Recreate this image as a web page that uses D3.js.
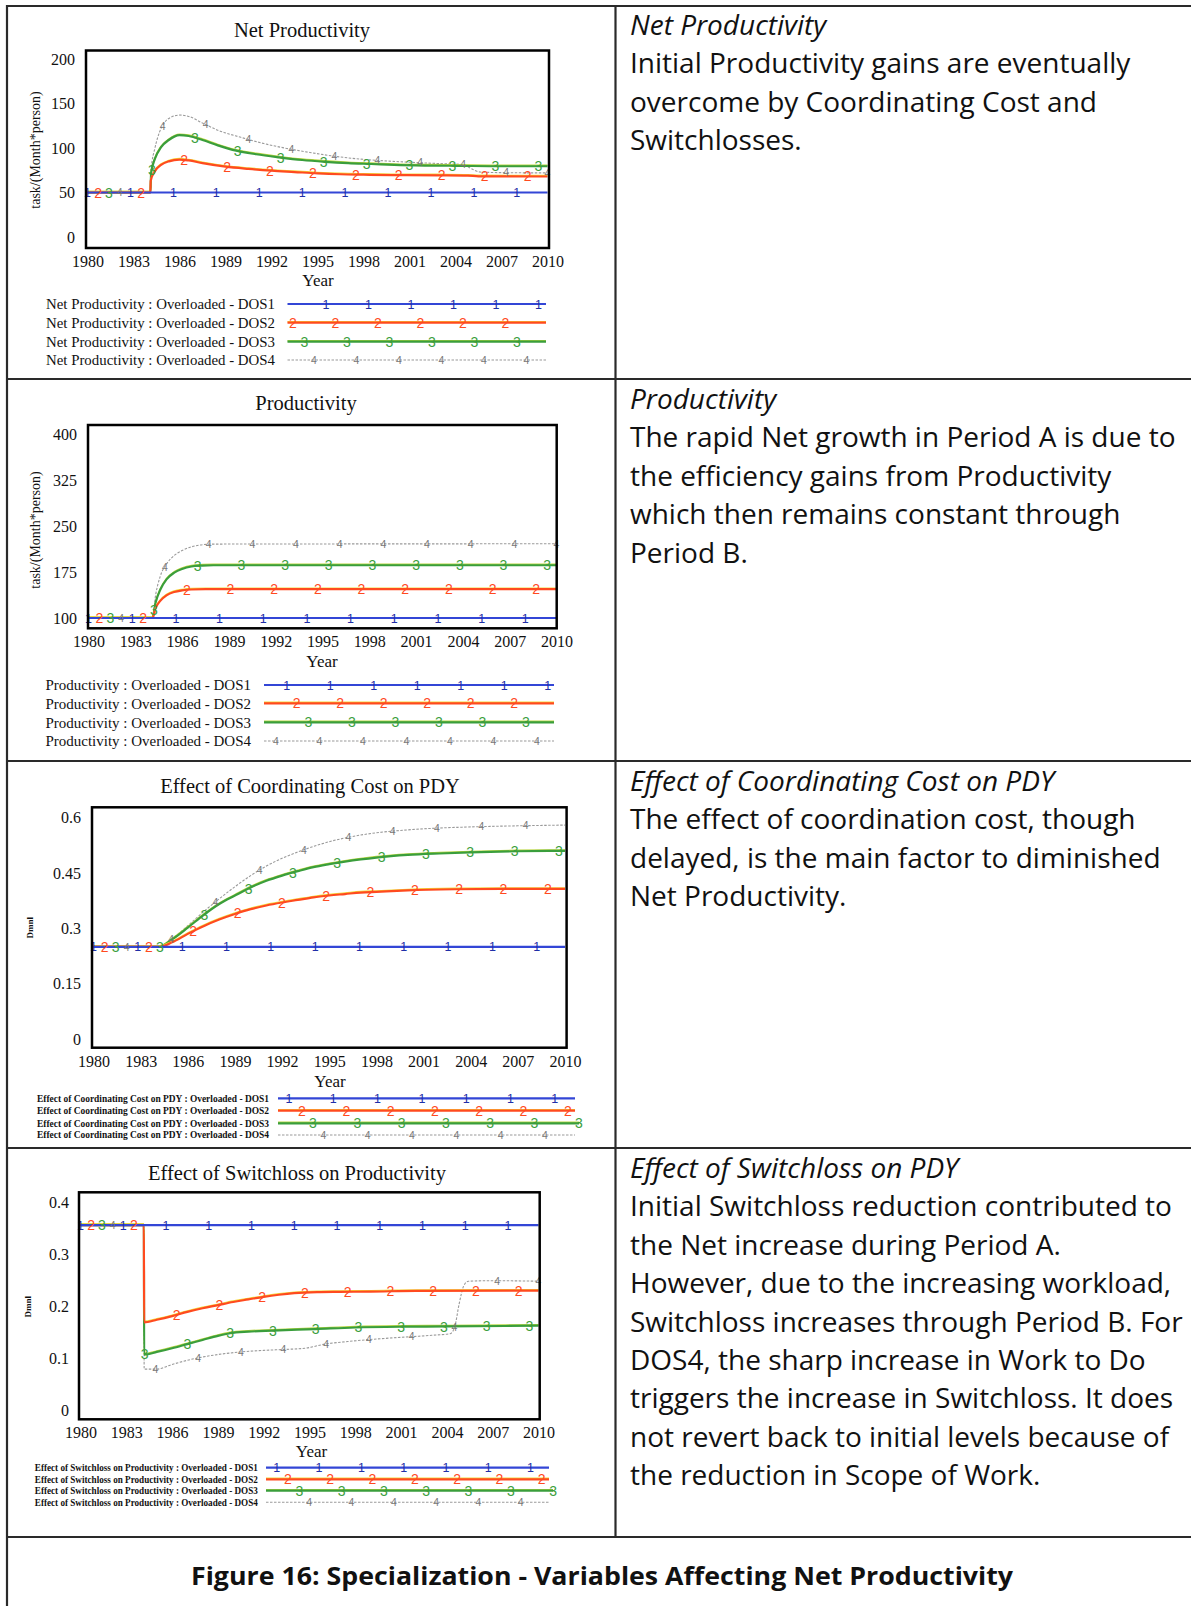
<!DOCTYPE html>
<html>
<head>
<meta charset="utf-8">
<script src="https://cdn.jsdelivr.net/npm/d3@7"></script>
<style>
  body { margin: 0; background: #fff; }
  .serif { font-family: "Liberation Serif", "Times New Roman", serif; fill: #111; }
  .note { font-family: "Open Sans", "Noto Sans", sans-serif; fill: #111; }
</style>
</head>
<body>
<div id="chart"></div>
<script>
// ---- shared labels ----
const yearTicks = [1980, 1983, 1986, 1989, 1992, 1995, 1998, 2001, 2004, 2007, 2010];
const seriesNames = ['DOS1', 'DOS2', 'DOS3', 'DOS4'];

// ---- Net Productivity (task/(Month*person)) ----
const netTicks = [0, 50, 100, 150, 200];
const net1 = [[1980, 50], [2010, 50]];
const net2 = [[1980, 50], [1984.1, 50], [1984.12, 63], [1984.4, 74], [1984.8, 81], [1985.3, 85], [1986, 87], [1986.6, 86],
  [1987.5, 83], [1989, 79], [1990.5, 76.5], [1992, 74.5], [1993.5, 73], [1995, 71.5], [1996.5, 70.5], [1998, 70],
  [2000, 69.5], [2003, 69.3], [2004.8, 69], [2005.5, 68.2], [2010, 68]];
const net3 = [[1980, 50], [1984.1, 50], [1984.15, 72], [1984.4, 88], [1984.8, 101], [1985.3, 109], [1986, 114.5], [1986.6, 113.5],
  [1987.5, 109], [1988.5, 103], [1989.7, 97], [1991, 93], [1992.5, 89.5], [1994, 86.5], [1995.5, 84.5], [1997, 83],
  [1998.5, 82], [2000, 81], [2002, 80.3], [2004, 80], [2007, 79.5], [2010, 79.5]];
const net4 = [[1980, 50], [1984.1, 50], [1984.15, 76], [1984.4, 100], [1984.7, 118], [1985, 128], [1985.5, 135], [1986, 137],
  [1986.6, 135.5], [1987.5, 128], [1988.5, 120], [1990, 112], [1991.5, 105], [1993, 99.5], [1994.5, 95], [1996, 91],
  [1997.5, 88], [1999, 86], [2001, 84], [2003, 82.5], [2004.5, 81.5], [2005, 77], [2005.6, 73], [2007, 72.3], [2010, 72]];

// ---- Productivity ----
const prodTicks = [100, 175, 250, 325, 400];
const prod1 = [[1980, 100], [2010, 100]];
const prod2 = [[1980, 100], [1984.1, 100], [1984.3, 116], [1984.6, 128], [1985, 137], [1985.5, 142.5], [1986, 145],
  [1986.6, 146.5], [1987.5, 147], [2010, 147]];
const prod3 = [[1980, 100], [1984.1, 100], [1984.3, 125], [1984.6, 146], [1985, 163], [1985.5, 174], [1986, 180],
  [1986.6, 184], [1987.3, 185.5], [1988, 186], [2010, 186]];
const prod4 = [[1980, 100], [1984.1, 100], [1984.3, 137], [1984.6, 168], [1985, 188], [1985.5, 202], [1986, 210],
  [1986.6, 216], [1987.3, 219.5], [1988, 220.5], [2010, 221]];

// ---- Effect of Coordinating Cost on PDY (Dmnl) ----
const coordTicks = [0, 0.15, 0.3, 0.45, 0.6];
const coord1 = [[1980, 0.25], [2010, 0.25]];
const coord2 = [[1980, 0.25], [1984.2, 0.25], [1985, 0.262], [1986, 0.285], [1987, 0.306], [1988, 0.324], [1989, 0.339],
  [1990, 0.352], [1991, 0.362], [1992, 0.370], [1993, 0.377], [1994, 0.384], [1995, 0.389], [1996, 0.393], [1997, 0.397],
  [1998, 0.399], [2000, 0.403], [2003, 0.406], [2006, 0.407], [2010, 0.407]];
const coord3 = [[1980, 0.25], [1984.2, 0.25], [1985, 0.27], [1986, 0.302], [1987, 0.336], [1988, 0.366], [1989, 0.389],
  [1990, 0.411], [1991, 0.429], [1992, 0.443], [1993, 0.455], [1994, 0.466], [1995, 0.474], [1996, 0.481], [1997, 0.487],
  [1998, 0.492], [2000, 0.499], [2002, 0.503], [2004, 0.506], [2007, 0.509], [2010, 0.51]];
const coord4 = [[1980, 0.25], [1984.2, 0.25], [1985, 0.272], [1986, 0.307], [1987, 0.345], [1988, 0.38], [1989, 0.413],
  [1990, 0.443], [1991, 0.469], [1992, 0.49], [1993, 0.507], [1994, 0.522], [1995, 0.535], [1996, 0.545], [1997, 0.553],
  [1998, 0.559], [2000, 0.567], [2002, 0.572], [2004, 0.575], [2007, 0.578], [2010, 0.58]];

// ---- Effect of Switchloss on Productivity (Dmnl) ----
const switchTicks = [0, 0.1, 0.2, 0.3, 0.4];
const switch1 = [[1980, 0.357], [2010, 0.357]];
const switch2 = [[1980, 0.357], [1984.15, 0.357], [1984.17, 0.17], [1985, 0.175], [1986, 0.182], [1987, 0.19], [1988, 0.197],
  [1989, 0.203], [1990, 0.209], [1991, 0.214], [1992, 0.219], [1993, 0.223], [1994, 0.226], [1995.5, 0.228], [1997, 0.2285],
  [1999, 0.229], [2002, 0.2305], [2010, 0.231]];
const switch3 = [[1980, 0.357], [1984.15, 0.357], [1984.17, 0.108], [1985, 0.113], [1986, 0.12], [1987, 0.128], [1988, 0.136],
  [1989, 0.144], [1989.8, 0.149], [1991, 0.152], [1992.6, 0.154], [1995.4, 0.157], [1998, 0.16], [2001, 0.1615],
  [2004, 0.162], [2010, 0.1635]];
const switch4 = [[1980, 0.357], [1984.15, 0.357], [1984.17, 0.08], [1985, 0.08], [1986, 0.089], [1987.6, 0.101], [1989, 0.108],
  [1990.5, 0.113], [1992, 0.116], [1993.5, 0.118], [1994.7, 0.12], [1996, 0.128], [1997.5, 0.133], [1999, 0.137],
  [2001.5, 0.142], [2003, 0.145], [2004.2, 0.148], [2004.5, 0.16], [2004.8, 0.205], [2005.1, 0.24], [2005.4, 0.249],
  [2007, 0.25], [2010, 0.249]];

// ---- look of the four runs ----
const lineColors = ['#3346d6', '#ff4a1f', '#3a9e3c', '#9a9a9a'];
const edgeColors = [null, '#f4d83c', '#b9d640', null];
const markColors = ['#1f2fa8', '#ff4a1f', '#3a9e3c', '#777'];

const W = 1191, H = 1606;
const svg = d3.select('#chart').append('svg')
  .attr('width', W).attr('height', H)
  .attr('viewBox', [0, 0, W, H]);
svg.append('rect').attr('width', W).attr('height', H).attr('fill', '#fff');

// draws one run as a path (with the coloured edge Vensim shows on run 2 and 3)
function drawRun(g, k, pathFn, data) {
  if (edgeColors[k]) {
    g.append('path').datum(data).attr('d', pathFn)
      .attr('transform', 'translate(0,-1)')
      .attr('fill', 'none').attr('stroke', edgeColors[k]).attr('stroke-width', 1.4);
  }
  const p = g.append('path').datum(data).attr('d', pathFn)
    .attr('fill', 'none').attr('stroke', lineColors[k])
    .attr('stroke-width', k === 3 ? 1.1 : 2.2);
  if (k === 3) p.attr('stroke-dasharray', '2.5,1.5');
}

function drawMark(g, k, cx, cy) {
  g.append('text')
    .attr('x', cx).attr('y', cy)
    .attr('text-anchor', 'middle').attr('dy', '0.36em')
    .attr('font-family', '"Liberation Sans", Arial, sans-serif')
    .attr('font-size', k === 3 ? 10.5 : (k === 0 ? 12.5 : 14))
    .attr('fill', markColors[k])
    .text(String(k + 1));
}

function panel(p) {
  const g = svg.append('g');
  const [fx0, fx1, fy0, fy1] = p.frame;
  const x = d3.scaleLinear([1980, 2010], p.xRange);
  const y = d3.scaleLinear(p.yDomain, p.yRange);

  g.append('text').attr('class', 'serif')
    .attr('x', p.titleX).attr('y', p.titleY)
    .attr('text-anchor', 'middle')
    .style('font-size', p.titleSize + 'px')
    .text(p.title);

  // y axis
  const gy = g.append('g')
    .attr('transform', `translate(${fx0},0)`)
    .call(d3.axisLeft(y).tickValues(p.yTicks).tickSize(0).tickPadding(p.yPad).tickFormat(d => String(d)));
  gy.select('.domain').remove();
  gy.attr('font-family', '"Liberation Serif", "Times New Roman", serif').attr('font-size', 16);
  gy.selectAll('text').attr('fill', '#111');

  // x axis
  const gx = g.append('g')
    .attr('transform', `translate(0,${fy1})`)
    .call(d3.axisBottom(x).tickValues(yearTicks).tickSize(0).tickFormat(d3.format('d')));
  gx.select('.domain').remove();
  gx.attr('font-family', '"Liberation Serif", "Times New Roman", serif').attr('font-size', 16);
  gx.selectAll('text').attr('fill', '#111').attr('y', p.xLabelY - fy1).attr('dy', '0.35em');

  g.append('text').attr('class', 'serif')
    .attr('x', p.yearX).attr('y', p.yearY).attr('dy', '0.35em')
    .attr('text-anchor', 'middle').style('font-size', '17px')
    .text('Year');

  g.append('text').attr('class', 'serif')
    .attr('transform', `translate(${p.yLabelX},${p.yLabelY}) rotate(-90)`)
    .attr('text-anchor', 'middle').attr('dy', '0.35em')
    .style('font-size', p.yLabelSize + 'px')
    .style('font-weight', p.yLabelBold ? 'bold' : 'normal')
    .text(p.yLabel);

  // runs
  const line = d3.line().x(d => x(d[0])).y(d => y(d[1])).curve(d3.curveMonotoneX);
  [3, 2, 1, 0].forEach(k => drawRun(g, k, line, p.series[k]));

  // run numbers along the lines
  p.series.forEach((pts, k) => {
    const at = d3.scaleLinear(pts.map(d => d[0]), pts.map(d => d[1])).clamp(true);
    for (let t = 1980 + k * p.T / 4; t <= 2010.2; t += p.T) {
      drawMark(g, k, x(Math.min(t, 2010)), y(at(t)));
    }
  });

  // frame
  g.append('rect')
    .attr('x', fx0).attr('y', fy0)
    .attr('width', fx1 - fx0).attr('height', fy1 - fy0)
    .attr('fill', 'none').attr('stroke', '#000').attr('stroke-width', 2.5);

  // legend
  const L = p.legend;
  seriesNames.forEach((name, k) => {
    const ry = L.rows[k];
    g.append('text').attr('class', 'serif')
      .attr('x', L.text[0]).attr('y', ry).attr('dy', '0.35em')
      .attr('textLength', L.text[1] - L.text[0]).attr('lengthAdjust', 'spacingAndGlyphs')
      .style('font-size', L.size + 'px')
      .style('font-weight', L.bold ? 'bold' : 'normal')
      .text(`${p.legendName} : Overloaded - ${name}`);
    const lineEnd = L.line[1] + (L.extra ? L.extra[k] : 0);
    const seg = d3.line()([[L.line[0], ry], [lineEnd, ry]]);
    drawRun(g, k, () => seg, null);
    for (let mx = L.first[k]; mx <= lineEnd + 1.5; mx += L.step) drawMark(g, k, mx, ry);
  });
}

panel({
  title: 'Net Productivity', titleX: 302, titleY: 37, titleSize: 20.5,
  frame: [86, 549, 50.5, 248], xRange: [87.5, 547.5],
  yDomain: [0, 200], yRange: [237, 59], yTicks: netTicks, yPad: 11,
  xLabelY: 261.5, yearX: 318, yearY: 280,
  yLabel: 'task/(Month*person)', yLabelX: 35, yLabelY: 150, yLabelSize: 14,
  series: [net1, net2, net3, net4], T: 2.8,
  legendName: 'Net Productivity',
  legend: { rows: [304, 322.7, 341.7, 360], text: [46, 275], line: [287.5, 546], size: 15.5,
    first: [326, 293, 304.5, 314], step: 42.5 }
});

panel({
  title: 'Productivity', titleX: 306, titleY: 410, titleSize: 20.5,
  frame: [88, 556.7, 425, 628.3], xRange: [88.5, 556.5],
  yDomain: [100, 400], yRange: [618, 434], yTicks: prodTicks, yPad: 11,
  xLabelY: 641.7, yearX: 322, yearY: 660.7,
  yLabel: 'task/(Month*person)', yLabelX: 35, yLabelY: 530, yLabelSize: 14,
  series: [prod1, prod2, prod3, prod4], T: 2.8,
  legendName: 'Productivity',
  legend: { rows: [685, 703.3, 722.3, 741], text: [45.5, 251], line: [264, 554], size: 15.5,
    first: [286.7, 296.6, 308.4, 276], step: 43.5 }
});

panel({
  title: 'Effect of Coordinating Cost on PDY', titleX: 310, titleY: 792.5, titleSize: 20.5,
  frame: [92, 566.6, 807.3, 1047.7], xRange: [93.5, 565],
  yDomain: [0, 0.6], yRange: [1039, 817.7], yTicks: coordTicks, yPad: 11,
  xLabelY: 1061.7, yearX: 330, yearY: 1081,
  yLabel: 'Dmnl', yLabelX: 30, yLabelY: 927.7, yLabelSize: 9, yLabelBold: true,
  series: [coord1, coord2, coord3, coord4], T: 2.82,
  legendName: 'Effect of Coordinating Cost on PDY',
  legend: { rows: [1098.3, 1110.7, 1123.3, 1135], text: [37, 269], line: [278, 575], size: 9.5, bold: true,
    extra: [0, 0, 4, 0], first: [289, 302, 313, 323.4], step: 44.3 }
});

panel({
  title: 'Effect of Switchloss on Productivity', titleX: 297, titleY: 1180, titleSize: 20.5,
  frame: [79, 539.7, 1192.3, 1419.3], xRange: [80.5, 538.5],
  yDomain: [0, 0.4], yRange: [1410.7, 1202.7], yTicks: switchTicks, yPad: 10,
  xLabelY: 1432.7, yearX: 311.5, yearY: 1451,
  yLabel: 'Dmnl', yLabelX: 28, yLabelY: 1306.7, yLabelSize: 9, yLabelBold: true,
  series: [switch1, switch2, switch3, switch4], T: 2.8,
  legendName: 'Effect of Switchloss on Productivity',
  legend: { rows: [1467.7, 1479.3, 1490.7, 1502.3], text: [34.8, 257.8], line: [266, 549], size: 9.5, bold: true,
    extra: [0, 0, 4, 0], first: [276.8, 287.9, 299.3, 309.2], step: 42.3 }
});

// ---- notes column ----
const notes = [
  { base: 35, head: 'Net Productivity', lines: [
    'Initial Productivity gains are eventually',
    'overcome by Coordinating Cost and',
    'Switchlosses.'] },
  { base: 409, head: 'Productivity', lines: [
    'The rapid Net growth in Period A is due to',
    'the efficiency gains from Productivity',
    'which then remains constant through',
    'Period B.'] },
  { base: 791, head: 'Effect of Coordinating Cost on PDY', lines: [
    'The effect of coordination cost, though',
    'delayed, is the main factor to diminished',
    'Net Productivity.'] },
  { base: 1178, head: 'Effect of Switchloss on PDY', lines: [
    'Initial Switchloss reduction contributed to',
    'the Net increase during Period A.',
    'However, due to the increasing workload,',
    'Switchloss increases through Period B. For',
    'DOS4, the sharp increase in Work to Do',
    'triggers the increase in Switchloss. It does',
    'not revert back to initial levels because of',
    'the reduction in Scope of Work.'] }
];
const lineGap = 38.4;
const noteSize = 28;
notes.forEach(n => {
  svg.append('text').attr('class', 'note')
    .attr('x', 630).attr('y', n.base)
    .style('font-size', noteSize + 'px').style('font-style', 'italic')
    .text(n.head);
  n.lines.forEach((t, i) => {
    svg.append('text').attr('class', 'note')
      .attr('x', 630).attr('y', n.base + lineGap * (i + 1))
      .style('font-size', noteSize + 'px')
      .text(t);
  });
});

svg.append('text').attr('class', 'note')
  .attr('x', 602).attr('y', 1585)
  .attr('text-anchor', 'middle')
  .attr('textLength', 822).attr('lengthAdjust', 'spacingAndGlyphs')
  .style('font-size', '25px').style('font-weight', 'bold')
  .text('Figure 16: Specialization - Variables Affecting Net Productivity');

// ---- table rules ----
const rule = '#2a2a2a';
[6, 379, 761, 1148, 1537].forEach(yy => {
  svg.append('line').attr('x1', 6).attr('x2', W).attr('y1', yy).attr('y2', yy)
    .attr('stroke', rule).attr('stroke-width', 2.2);
});
svg.append('line').attr('x1', 7).attr('x2', 7).attr('y1', 5).attr('y2', H)
  .attr('stroke', rule).attr('stroke-width', 2.2);
svg.append('line').attr('x1', 615.5).attr('x2', 615.5).attr('y1', 6).attr('y2', 1537)
  .attr('stroke', rule).attr('stroke-width', 2.2);
</script>
</body>
</html>
